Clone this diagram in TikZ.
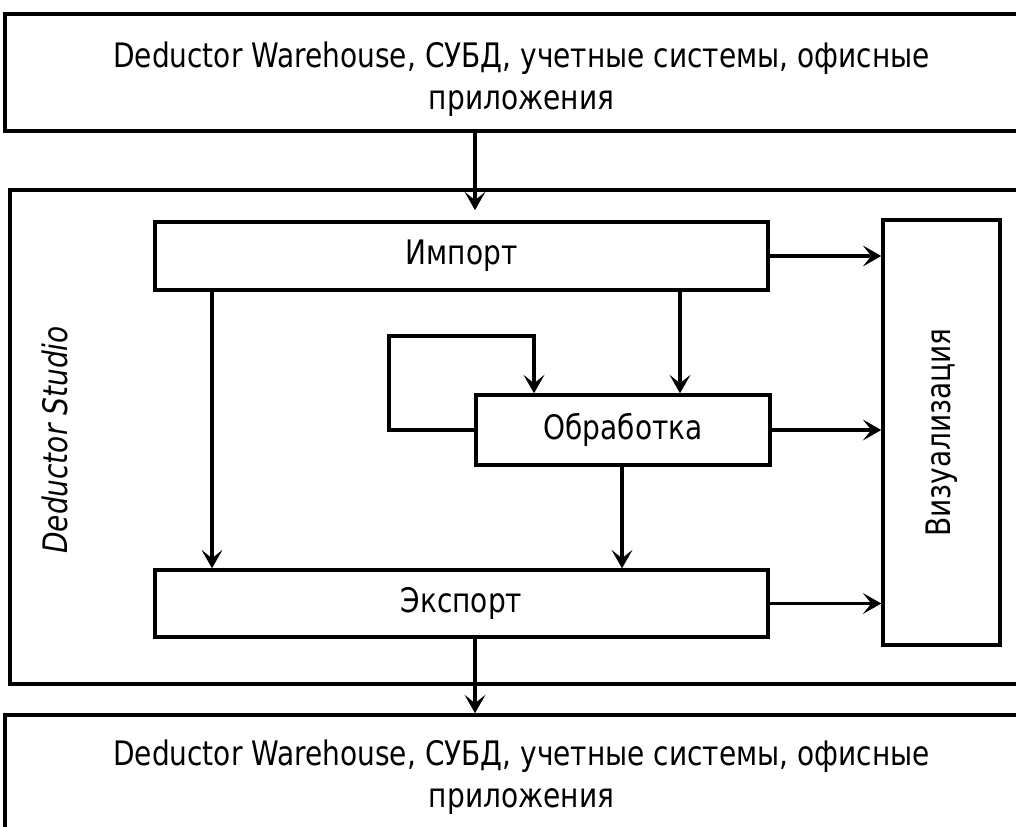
\documentclass[tikz,border=0pt]{standalone}
\usepackage{fontspec}
\setmainfont{DejaVu Sans}[FakeStretch=0.83]
\usetikzlibrary{arrows.meta, positioning, calc}

\begin{document}
\begin{tikzpicture}[x=0.025cm, y=-0.025cm, >={Stealth[length=4.6mm, width=5.2mm, inset=2.1mm]},
    font=\fontsize{24}{30}\selectfont,
    outerbox/.style={draw, line width=2.5pt, minimum width=25.825cm, minimum height=2.925cm},
    boxtext/.style={align=center, inner sep=0pt},
    stepbox/.style={draw, line width=2.4pt, minimum height=1.7cm, align=center, inner sep=0pt},
    flow/.style={->, line width=2.3pt},
    mainflow/.style={->, line width=3.2pt},
    backloop/.style={->, line width=3.4pt}]

  \useasboundingbox (0,0) rectangle (1016,826);
  \clip (0,0) rectangle (1016,826);

  % sources and targets
  \node[outerbox] (src) at (521.5,72.5) {};
  \node[boxtext] (srclbl) at (521.5,79.5)
        {Deductor Warehouse, СУБД, учетные системы, офисные\\приложения};
  \node[outerbox] (dst) at (521.5,773.5) {};
  \node[boxtext] (dstlbl) at (521.5,777)
        {Deductor Warehouse, СУБД, учетные системы, офисные\\приложения};

  % Deductor Studio frame
  \node[draw, line width=2.5pt, minimum width=25.75cm, minimum height=12.35cm] (studio) at (525,437) {};
  \node[rotate=90, font=\fontsize{24}{30}\selectfont\itshape] (studiolbl) at (55,440) {Deductor Studio};

  % inner steps
  \node[stepbox, minimum width=15.325cm]                     (imp)  at (461.5,256)   {Импорт};
  \node[stepbox, minimum width=7.35cm, minimum height=1.75cm] (proc) at (623,430)     {Обработка};
  \node[stepbox, minimum width=15.325cm, minimum height=1.675cm] (exp) at (461.5,603.5) {Экспорт};
  \node[stepbox, minimum width=2.925cm, minimum height=10.625cm] (vis) at (941.5,432.5) {};
  \node[rotate=90] (vislbl) at (vis.center) {Визуализация};

  \coordinate (cs) at (475,0);
  \coordinate (cl) at (212,0);
  \coordinate (cm) at (680,0);
  \coordinate (cp) at (622,0);
  \coordinate (cr) at (534,0);
  \coordinate (lp) at (389,336);

  \draw[mainflow] (src.south -| cs) -- ($(studio.north -| cs)+(0,22)$);
  \draw[flow] (exp.south -| cs) -- (dst.north -| cs);

  \foreach \a in {imp,proc,exp} {
    \draw[flow] (\a.east) -- (\a.east -| vis.west);
  }
  \draw[flow] (imp.south -| cl) -- (exp.north -| cl);
  \draw[flow] (imp.south -| cm) -- (proc.north -| cm);
  \draw[flow] (proc.south -| cp) -- (exp.north -| cp);
  \draw[backloop] (proc.west) -| (lp) -| (proc.north -| cr);

\end{tikzpicture}
\end{document}
